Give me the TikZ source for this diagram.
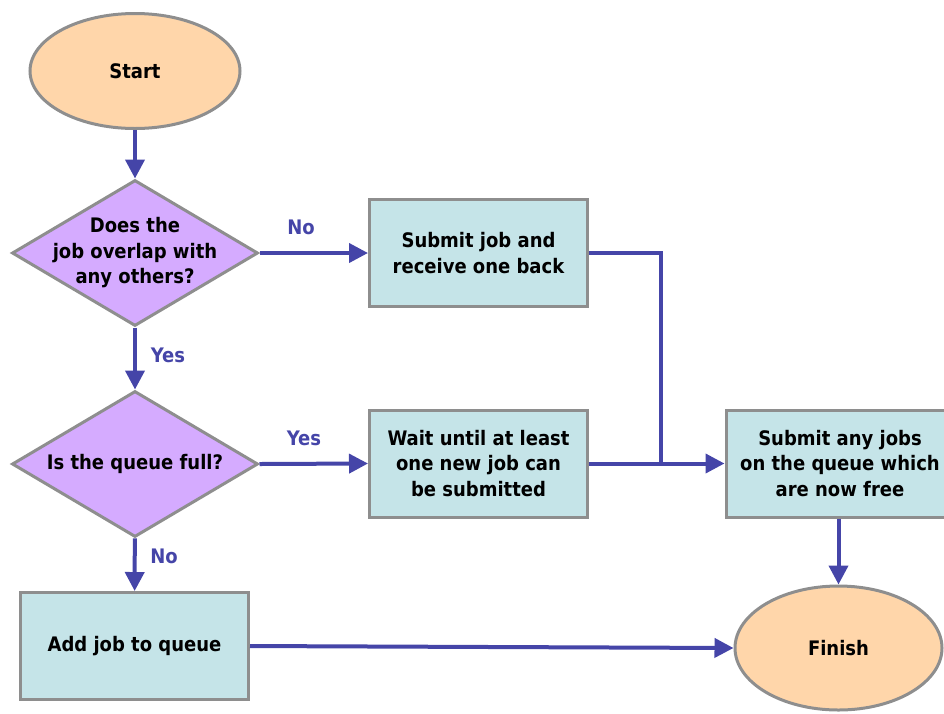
\documentclass[tikz,border=0pt]{standalone}
\usepackage{fontspec}
\setmainfont{DejaVu Sans Condensed Bold}
\usetikzlibrary{shapes.geometric,arrows.meta}
\definecolor{edgegray}{HTML}{8E8E8E}
\definecolor{arrowblue}{HTML}{4545A8}
\definecolor{peach}{HTML}{FFD6AA}
\definecolor{lilac}{HTML}{D5ABFF}
\definecolor{paleblue}{HTML}{C5E4E8}
\tikzset{
  every node/.style={font=\fontsize{20}{25.5}\selectfont, text=black},
  terminal/.style={ellipse, draw=edgegray, line width=3pt, fill=peach, inner sep=0pt},
  decision/.style={diamond, draw=edgegray, line width=3pt, fill=lilac, inner sep=0pt, minimum width=246pt, minimum height=146pt},
  process/.style={rectangle, draw=edgegray, line width=3pt, fill=paleblue, inner sep=0pt, minimum width=218pt, minimum height=107pt, align=center},
  flow/.style={draw=arrowblue, line width=4pt, -{Triangle[length=19pt,width=19pt]}},
  plainflow/.style={draw=arrowblue, line width=4pt, line join=miter},
  edgelabel/.style={text=arrowblue}
}
\begin{document}
\begin{tikzpicture}[x=1pt,y=-1pt]
\useasboundingbox (0,0) rectangle (944,713);
\node[terminal, minimum width=210pt, minimum height=115pt] (start) at (135,71) {Start};
\node[decision, label={[align=center]center:Does the\\job overlap with\\any others?}] (d1) at (135,253) {};
\node[decision, label={[align=center]center:Is the queue full?}] (d2) at (135,464) {};
\node[process, minimum width=228pt] (add) at (134.5,646) {Add job to queue};
\node[process] (b1) at (478.5,253) {Submit job and\\receive one back};
\node[process] (b2) at (478.5,463.5) {Wait until at least\\one new job can\\be submitted};
\node[process, minimum width=228pt] (b3) at (840,463.5) {Submit any jobs\\on the queue which\\are now free};
\node[terminal, minimum width=207pt, minimum height=124pt] (fin) at (838.5,648) {Finish};
\coordinate (m) at (661,463.5);

\draw[flow] (start) -- (d1);
\draw[flow] (d1) -- (d2);
\draw[flow] (d2) -- (add);
\draw[flow] (d1.east) -- (b1.west);
\draw[flow] (d2.east) -- (b2.west);
\draw[plainflow] (b1.east) -| (m);
\draw[flow] (b2.east) -- (b3.west);
\draw[flow] (b3.south -| fin.north) -- (fin.north);
\draw[flow] (add.east) -- (fin.west);

\node[edgelabel] (l1) at (301,227) {No};
\node[edgelabel] (l2) at (168,355) {Yes};
\node[edgelabel] (l3) at (304,438) {Yes};
\node[edgelabel] (l4) at (164,556) {No};
\end{tikzpicture}
\end{document}
